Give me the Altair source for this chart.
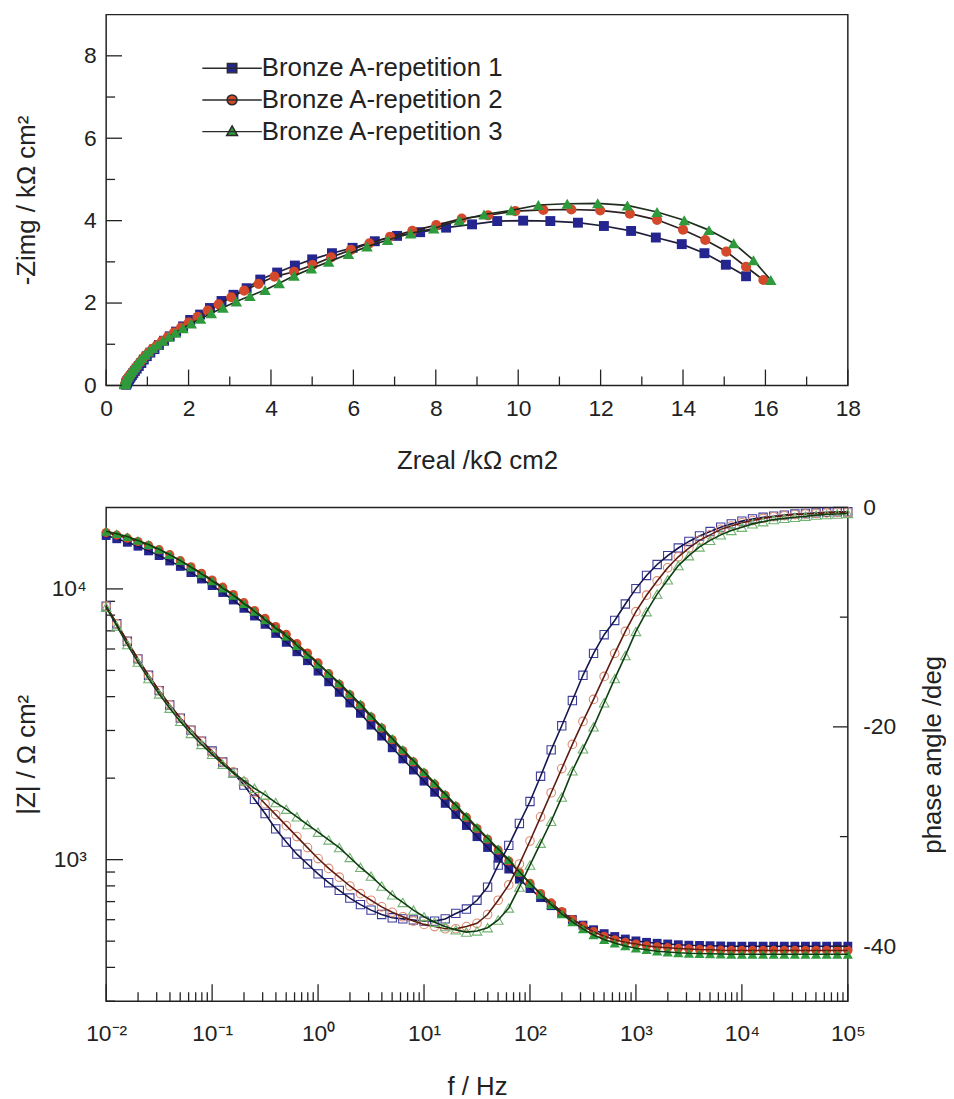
import altair as alt
import pandas as pd

SERIES = ["Bronze A-repetition 1", "Bronze A-repetition 2", "Bronze A-repetition 3"]

# ---------------- Bode data (frequency in Hz, |Z| in ohm cm2, phase in deg) ----------------
FREQ = [0.01, 0.01259, 0.01585, 0.01995, 0.02512, 0.03162, 0.03981, 0.05012, 0.0631, 0.07943,
        0.1, 0.1259, 0.1585, 0.1995, 0.2512, 0.3162, 0.3981, 0.5012, 0.631, 0.7943,
        1, 1.259, 1.585, 1.995, 2.512, 3.162, 3.981, 5.012, 6.31, 7.943,
        10, 12.59, 15.85, 19.95, 25.12, 31.62, 39.81, 50.12, 63.1, 79.43,
        100, 125.9, 158.5, 199.5, 251.2, 316.2, 398.1, 501.2, 631, 794.3,
        1000, 1259, 1585, 1995, 2512, 3162, 3981, 5012, 6310, 7943,
        10000, 12590, 15850, 19950, 25120, 31620, 39810, 50120, 63100, 79430,
        100000]

ZMOD_1 = [15750, 15320, 14870, 14380, 13820, 13280, 12680, 12110, 11490, 10880,
          10290, 9700, 9100, 8480, 7940, 7400, 6850, 6350, 5860, 5430,
          4970, 4540, 4150, 3790, 3470, 3140, 2860, 2590, 2355, 2143,
          1950, 1774, 1614, 1469, 1337, 1216, 1109, 1012, 923, 847,
          782, 724, 676, 635, 601, 573, 551, 533, 520, 509,
          501, 495, 491, 488, 485, 483, 482, 481, 480, 479,
          479, 479, 479, 479, 479, 479, 479, 479, 479, 479, 479]
ZMOD_2 = [16150, 15800, 15400, 14960, 14500, 13960, 13380, 12720, 12070, 11430,
          10790, 10150, 9530, 8900, 8320, 7780, 7260, 6790, 6280, 5800,
          5330, 4864, 4446, 4064, 3715, 3365, 3062, 2773, 2523, 2296,
          2089, 1901, 1730, 1574, 1432, 1303, 1189, 1084, 989, 897,
          818, 750, 692, 643, 601, 568, 542, 521, 506, 495,
          488, 481, 476, 473, 470, 468, 466, 465, 463, 462,
          462, 462, 462, 462, 462, 462, 462, 462, 462, 462, 462]
ZMOD_3 = [16330, 16000, 15610, 15110, 14590, 14020, 13380, 12720, 12030, 11370,
          10710, 10070, 9460, 8820, 8260, 7690, 7170, 6690, 6180, 5730,
          5280, 4880, 4498, 4111, 3758, 3404, 3097, 2805, 2553, 2323,
          2113, 1923, 1750, 1592, 1449, 1318, 1202, 1096, 1000, 902,
          818, 745, 682, 631, 589, 555, 527, 507, 492, 480,
          471, 465, 459, 456, 453, 451, 450, 449, 448, 447,
          447, 447, 447, 447, 447, 447, 447, 447, 447, 447, 447]

PHASE_1 = [-9.0, -10.6, -12.2, -13.8, -15.3, -16.7, -18.0, -19.2, -20.3, -21.3,
           -22.2, -23.2, -24.2, -25.3, -26.6, -27.9, -29.3, -30.5, -31.6, -32.5,
           -33.4, -34.2, -34.9, -35.6, -36.2, -36.7, -37.1, -37.4, -37.5, -37.6,
           -37.7, -37.7, -37.5, -37.0, -36.6, -35.8, -34.6, -32.6, -30.8, -28.8,
           -26.8, -24.5, -22.1, -19.9, -17.6, -15.3, -13.3, -11.6, -10.3, -8.8,
           -7.4, -6.2, -5.2, -4.4, -3.7, -3.1, -2.6, -2.2, -1.8, -1.5,
           -1.25, -1.05, -0.9, -0.8, -0.7, -0.6, -0.55, -0.5, -0.45, -0.4, -0.4]
PHASE_2 = [-9.0, -10.6, -12.2, -13.8, -15.3, -16.7, -18.0, -19.2, -20.3, -21.3,
           -22.3, -23.2, -24.1, -25.0, -26.0, -27.0, -28.0, -29.0, -30.0, -31.0,
           -32.0, -32.9, -33.7, -34.5, -35.2, -35.8, -36.4, -36.9, -37.3, -37.7,
           -38.0, -38.2, -38.4, -38.4, -38.2, -37.9, -37.1, -35.8, -34.4, -32.5,
           -30.4, -28.2, -26.0, -23.8, -21.6, -19.5, -17.5, -15.4, -13.3, -11.3,
           -9.5, -8.0, -6.7, -5.5, -4.5, -3.7, -3.0, -2.5, -2.0, -1.7,
           -1.4, -1.2, -1.0, -0.85, -0.75, -0.65, -0.6, -0.55, -0.5, -0.45, -0.45]
PHASE_3 = [-9.1, -10.8, -12.5, -14.1, -15.6, -17.0, -18.3, -19.5, -20.6, -21.6,
           -22.5, -23.4, -24.2, -24.9, -25.6, -26.2, -26.9, -27.5, -28.2, -28.9,
           -29.6, -30.3, -31.0, -31.9, -32.8, -33.6, -34.5, -35.3, -36.0, -36.7,
           -37.3, -37.8, -38.2, -38.5, -38.7, -38.6, -38.3, -37.6, -36.5, -34.6,
           -32.6, -30.6, -28.6, -26.4, -24.0, -22.0, -20.0, -17.8, -15.6, -13.5,
           -11.3, -9.5, -7.9, -6.6, -5.3, -4.4, -3.6, -3.0, -2.5, -2.1,
           -1.8, -1.5, -1.3, -1.1, -1.0, -0.9, -0.8, -0.7, -0.65, -0.6, -0.55]

# ---------------- Nyquist data (kohm cm2), low to high frequency ----------------
ZRE_1 = [15.53, 15.04, 14.52, 13.97, 13.34, 12.74, 12.08, 11.45, 10.78, 10.12,
         9.49, 8.88, 8.25, 7.62, 7.06, 6.52, 5.98, 5.48, 5.00, 4.58,
         4.15, 3.74, 3.41, 3.09, 2.80, 2.52, 2.28, 2.04, 1.868, 1.698,
         1.543, 1.404, 1.281, 1.173, 1.073, 0.986, 0.913, 0.853, 0.793, 0.742,
         0.698, 0.659, 0.626, 0.597, 0.573, 0.553, 0.536, 0.522, 0.512, 0.503,
         0.497, 0.492, 0.489, 0.487, 0.484, 0.482, 0.482]
ZIM_1 = [2.65, 2.93, 3.21, 3.43, 3.59, 3.75, 3.87, 3.95, 3.99, 4.00,
         3.99, 3.91, 3.83, 3.72, 3.63, 3.50, 3.34, 3.21, 3.06, 2.91,
         2.74, 2.57, 2.36, 2.20, 2.05, 1.88, 1.72, 1.59, 1.434, 1.307,
         1.192, 1.085, 0.983, 0.884, 0.797, 0.711, 0.630, 0.545, 0.473, 0.408,
         0.353, 0.300, 0.254, 0.216, 0.182, 0.151, 0.127, 0.107, 0.093, 0.078,
         0.065, 0.053, 0.044, 0.037, 0.031, 0.026, 0.022]
ZRE_2 = [15.95, 15.53, 15.05, 14.54, 14.00, 13.37, 12.71, 11.99, 11.29, 10.61,
         9.93, 9.27, 8.63, 8.01, 7.43, 6.89, 6.39, 5.94, 5.46, 5.01,
         4.56, 4.084, 3.699, 3.349, 3.036, 2.729, 2.465, 2.218, 2.007, 1.817,
         1.646, 1.494, 1.356, 1.234, 1.125, 1.028, 0.948, 0.879, 0.816, 0.757,
         0.706, 0.661, 0.622, 0.588, 0.559, 0.535, 0.517, 0.502, 0.492, 0.485,
         0.481, 0.476, 0.473, 0.471, 0.469, 0.467, 0.465]
ZIM_2 = [2.56, 2.88, 3.25, 3.53, 3.78, 4.02, 4.17, 4.25, 4.27, 4.26,
         4.23, 4.13, 4.05, 3.89, 3.75, 3.61, 3.45, 3.29, 3.11, 2.92,
         2.76, 2.642, 2.467, 2.302, 2.141, 1.969, 1.817, 1.665, 1.529, 1.404,
         1.286, 1.176, 1.075, 0.978, 0.886, 0.800, 0.717, 0.634, 0.559, 0.482,
         0.414, 0.354, 0.303, 0.259, 0.221, 0.190, 0.163, 0.138, 0.116, 0.097,
         0.081, 0.067, 0.056, 0.045, 0.037, 0.030, 0.024]
ZRE_3 = [16.13, 15.71, 15.23, 14.63, 14.03, 13.37, 12.65, 11.93, 11.19, 10.49,
         9.83, 9.17, 8.57, 7.95, 7.39, 6.83, 6.33, 5.88, 5.40, 4.98,
         4.56, 4.20, 3.856, 3.490, 3.159, 2.835, 2.552, 2.289, 2.065, 1.863,
         1.681, 1.520, 1.375, 1.246, 1.131, 1.030, 0.943, 0.868, 0.804, 0.742,
         0.689, 0.641, 0.599, 0.565, 0.538, 0.515, 0.495, 0.483, 0.474, 0.467,
         0.462, 0.459, 0.455, 0.453, 0.451, 0.450, 0.449]
ZIM_3 = [2.56, 3.04, 3.45, 3.77, 4.01, 4.21, 4.37, 4.42, 4.41, 4.38,
         4.25, 4.15, 4.01, 3.81, 3.69, 3.53, 3.37, 3.19, 3.00, 2.84,
         2.66, 2.48, 2.316, 2.172, 2.036, 1.884, 1.754, 1.621, 1.501, 1.388,
         1.280, 1.179, 1.082, 0.991, 0.906, 0.822, 0.745, 0.669, 0.595, 0.512,
         0.441, 0.379, 0.326, 0.281, 0.240, 0.208, 0.180, 0.155, 0.132, 0.112,
         0.092, 0.077, 0.063, 0.052, 0.042, 0.035, 0.028]

# ---------------- axis ticks / labels ----------------
TOP_X_MAJOR = [0, 2, 4, 6, 8, 10, 12, 14, 16, 18]
TOP_X_MINOR = [1, 3, 5, 7, 9, 11, 13, 15, 17]
TOP_Y_MAJOR = [0, 2, 4, 6, 8]
TOP_Y_MINOR = [1, 3, 5, 7]
F_DECADES = [0.01, 0.1, 1, 10, 100, 1000, 10000, 100000]
F_LABELS = ["10⁻²", "10⁻¹", "10⁰", "10¹", "10²", "10³", "10⁴", "10⁵"]
F_MINOR = [m * d for d in [0.01, 0.1, 1, 10, 100, 1000, 10000] for m in range(2, 10)]
Z_MAJOR = [1000, 10000]
Z_LABELS = ["10³", "10⁴"]
Z_MINOR = [300, 400, 500, 600, 700, 800, 900, 2000, 3000, 4000, 5000, 6000, 7000, 8000, 9000]
P_MAJOR = [0, -20, -40]
P_MINOR = [-10, -30]

# ---------------- styling ----------------
FONT = "Liberation Sans"
INK = "#222222"
FILL = ["#25258f", "#d4492c", "#2f9a3c"]
OPEN = ["#3d3d9c", "#dc8a72", "#72b472"]
BLINE = ["#15154f", "#5e1c10", "#0e3e10"]
TLINE = ["#1e1e3a", "#2e2020", "#1e2e1e"]
SHAPES = ["square", "circle", "triangle-up"]
LEG_PATHS = [
    "M-6,0H6M-0.95,-0.95H0.95V0.95H-0.95Z",
    "M-6,0H6M1,0A1,1,0,1,1,-1,0A1,1,0,1,1,1,0Z",
    "M-6,0H6M0,-1.15L1.1,0.8H-1.1Z",
]

W, H_TOP, H_BOT = 748, 374, 498


def axis(**kw):
    base = dict(ticks=False, domain=False, grid=False, labelFont=FONT, titleFont=FONT,
                labelColor=INK, titleColor=INK, titleFontWeight="normal",
                labelOverlap=False, labelFlush=False)
    base.update(kw)
    return alt.Axis(**base)


def case_expr(values, labels):
    return " : ".join(f"datum.value == {v} ? '{l}'" for v, l in zip(values, labels)) + " : ''"


# ---------------- Nyquist panel ----------------
nyq = pd.concat([
    pd.DataFrame({"series": SERIES[0], "i": range(len(ZRE_1)), "Zreal": ZRE_1, "Zimg": ZIM_1}),
    pd.DataFrame({"series": SERIES[1], "i": range(len(ZRE_2)), "Zreal": ZRE_2, "Zimg": ZIM_2}),
    pd.DataFrame({"series": SERIES[2], "i": range(len(ZRE_3)), "Zreal": ZRE_3, "Zimg": ZIM_3}),
])

xs_top = alt.Scale(domain=[0, 18], nice=False, zero=False)
ys_top = alt.Scale(domain=[0, 9], nice=False, zero=False)
ax_tx = axis(values=TOP_X_MAJOR, labelFontSize=23, labelPadding=12,
             title="Zreal /kΩ cm2", titleFontSize=26, titlePadding=28)
ax_ty = axis(values=TOP_Y_MAJOR, labelFontSize=23, labelPadding=10,
             title="-Zimg / kΩ cm²", titleFontSize=26, titlePadding=12,
             minExtent=55, maxExtent=55)
X_T = lambda: alt.X("Zreal:Q", scale=xs_top, axis=ax_tx)
Y_T = lambda: alt.Y("Zimg:Q", scale=ys_top, axis=ax_ty)

top_layers = []
for k in range(3):
    d = nyq[nyq.series == SERIES[k]]
    top_layers.append(alt.Chart(d).mark_line(color=TLINE[k], strokeWidth=1.7)
                      .encode(x=X_T(), y=Y_T(), order="i:Q"))
    top_layers.append(alt.Chart(d).mark_point(shape=SHAPES[k], filled=True, color=FILL[k],
                                              size=[100, 105, 135][k], opacity=1)
                      .encode(x=X_T(), y=Y_T()))

tick = dict(color=INK, strokeWidth=1.3)
top_layers += [
    alt.Chart(pd.DataFrame({"Zreal": TOP_X_MAJOR})).mark_rule(**tick)
    .encode(x=X_T(), y=alt.value(H_TOP), y2=alt.value(H_TOP - 16)),
    alt.Chart(pd.DataFrame({"Zreal": TOP_X_MINOR})).mark_rule(**tick)
    .encode(x=X_T(), y=alt.value(H_TOP), y2=alt.value(H_TOP - 9)),
    alt.Chart(pd.DataFrame({"Zimg": TOP_Y_MAJOR})).mark_rule(**tick)
    .encode(y=Y_T(), x=alt.value(0), x2=alt.value(16)),
    alt.Chart(pd.DataFrame({"Zimg": TOP_Y_MINOR})).mark_rule(**tick)
    .encode(y=Y_T(), x=alt.value(0), x2=alt.value(9)),
]

legend = alt.Legend(title=None, orient="none", legendX=89, legendY=41, symbolSize=100,
                    symbolStrokeWidth=1.5, symbolOpacity=1, symbolOffset=25, labelOffset=17,
                    labelFont=FONT, labelFontSize=26, labelColor=INK, labelLimit=600,
                    rowPadding=6, padding=0)
leg_df = pd.DataFrame({"series": SERIES, "Zreal": [1, 1, 1], "Zimg": [1, 1, 1]})
top_layers.append(
    alt.Chart(leg_df).transform_filter("false")
    .mark_point(filled=True, size=100, strokeWidth=1.5, opacity=1)
    .encode(x=X_T(), y=Y_T(),
            fill=alt.Fill("series:N", scale=alt.Scale(domain=SERIES, range=FILL), legend=legend),
            stroke=alt.Stroke("series:N", scale=alt.Scale(domain=SERIES, range=["#2a2a2a"] * 3), legend=legend),
            shape=alt.Shape("series:N", scale=alt.Scale(domain=SERIES, range=LEG_PATHS), legend=legend))
)

top = alt.layer(*top_layers).properties(width=W, height=H_TOP)

# ---------------- Bode panel ----------------
bode = pd.concat([
    pd.DataFrame({"series": SERIES[0], "f": FREQ, "Z": ZMOD_1, "P": PHASE_1}),
    pd.DataFrame({"series": SERIES[1], "f": FREQ, "Z": ZMOD_2, "P": PHASE_2}),
    pd.DataFrame({"series": SERIES[2], "f": FREQ, "Z": ZMOD_3, "P": PHASE_3}),
])

xs_b = alt.Scale(type="log", domain=[0.01, 100000], nice=False)
zs_b = alt.Scale(type="log", domain=[300, 20000], nice=False)
ps_b = alt.Scale(domain=[-45, 0], nice=False, zero=False)
ax_f = axis(values=F_DECADES, labelExpr=case_expr(F_DECADES, F_LABELS), labelFontSize=23,
            labelPadding=22, title="f / Hz", titleFontSize=26, titlePadding=28)
ax_z = axis(values=Z_MAJOR, labelExpr=case_expr(Z_MAJOR, Z_LABELS), labelFontSize=23,
            labelPadding=20, title="|Z| / Ω cm²", titleFontSize=26, titlePadding=12,
            minExtent=55, maxExtent=55, orient="left")
ax_p = axis(values=P_MAJOR, labelExpr="datum.value < 0 ? '-' + toString(-datum.value) : toString(datum.value)",
            labelFontSize=23, labelPadding=15, title="phase angle /deg", titleFontSize=26,
            titlePadding=24, titleAngle=270, titleBaseline="top", minExtent=48, maxExtent=48, orient="right")
X_B = lambda: alt.X("f:Q", scale=xs_b, axis=ax_f)
Y_Z = lambda: alt.Y("Z:Q", scale=zs_b, axis=ax_z)
Y_P = lambda: alt.Y("P:Q", scale=ps_b, axis=ax_p)

z_layers, p_layers = [], []
for k in range(3):
    d = bode[bode.series == SERIES[k]]
    z_layers.append(alt.Chart(d).mark_point(shape=SHAPES[k], filled=True, color=FILL[k],
                                            size=[80, 85, 105][k], opacity=1)
                    .encode(x=X_B(), y=Y_Z()))
    z_layers.append(alt.Chart(d).mark_line(color=BLINE[k], strokeWidth=1.6).encode(x=X_B(), y=Y_Z()))
for k in range(3):
    d = bode[bode.series == SERIES[k]]
    p_layers.append(alt.Chart(d).mark_point(shape=SHAPES[k], filled=False, color=OPEN[k],
                                            size=[70, 75, 95][k], strokeWidth=1.1, opacity=1)
                    .encode(x=X_B(), y=Y_P()))
    p_layers.append(alt.Chart(d).mark_line(color=BLINE[k], strokeWidth=1.6).encode(x=X_B(), y=Y_P()))

z_layers += [
    alt.Chart(pd.DataFrame({"f": F_DECADES})).mark_rule(**tick)
    .encode(x=X_B(), y=alt.value(H_BOT), y2=alt.value(H_BOT - 17)),
    alt.Chart(pd.DataFrame({"f": F_MINOR})).mark_rule(**tick)
    .encode(x=X_B(), y=alt.value(H_BOT), y2=alt.value(H_BOT - 9)),
    alt.Chart(pd.DataFrame({"Z": Z_MAJOR})).mark_rule(**tick)
    .encode(y=Y_Z(), x=alt.value(0), x2=alt.value(17)),
    alt.Chart(pd.DataFrame({"Z": Z_MINOR})).mark_rule(**tick)
    .encode(y=Y_Z(), x=alt.value(0), x2=alt.value(9)),
]
p_layers += [
    alt.Chart(pd.DataFrame({"P": P_MAJOR})).mark_rule(**tick)
    .encode(y=Y_P(), x=alt.value(W), x2=alt.value(W - 15)),
    alt.Chart(pd.DataFrame({"P": P_MINOR})).mark_rule(**tick)
    .encode(y=Y_P(), x=alt.value(W), x2=alt.value(W - 8)),
]

bottom = (alt.layer(alt.layer(*z_layers), alt.layer(*p_layers))
          .resolve_scale(y="independent")
          .properties(width=W, height=H_BOT))

chart = (alt.vconcat(top, bottom, spacing=123, bounds="flush")
         .properties(padding={"left": 5, "top": 1, "right": 0, "bottom": 0}, background="white")
         .configure_view(stroke=INK, strokeWidth=1.5))

chart.save("out.html", embed_options={"renderer": "svg", "actions": False})
